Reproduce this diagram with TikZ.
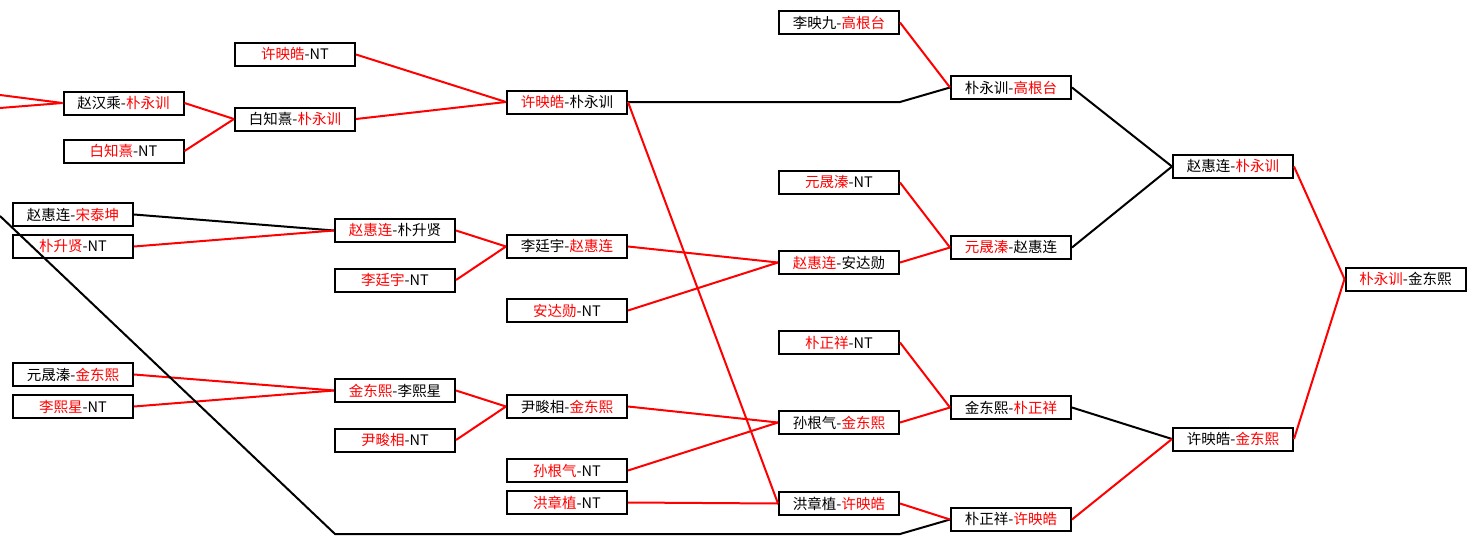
\documentclass[tikz,border=0pt]{standalone}
\usepackage{fontspec}
\usepackage{tikz}
\newfontfamily\cjk{Noto Sans CJK SC}
\newcommand{\win}[1]{\textcolor{red}{#1}}

\begin{document}
\begin{tikzpicture}[x=1pt, y=-1pt,
        team/.style={draw=black, line width=2pt, fill=white, minimum width=120pt,
            minimum height=23pt, inner sep=0pt, font=\cjk\fontsize{14.5}{16}\selectfont},
        won/.style={red, line width=2pt},
        lost/.style={black, line width=2pt}]
        \useasboundingbox (0,0) rectangle (1476,557);

        % Coordinates
        \coordinate (in1) at (0,95);
        \coordinate (in2) at (0,108);
        \coordinate (in3) at (0,216);
        \coordinate (kneeA) at (900,102);
        \coordinate (kneeB) at (335,534);
        \coordinate (kneeC) at (900,534);

        % Round 1
        \node[team] (a1) at (123.5,103) {赵汉乘-\win{朴永训}};
        \node[team] (a2) at (123.5,151) {\win{白知熹}-NT};
        \node[team] (a3) at (73,214.5) {赵惠连-\win{宋泰坤}};
        \node[team] (a4) at (73,246.5) {\win{朴升贤}-NT};
        \node[team] (a5) at (73,374.5) {元晟溱-\win{金东熙}};
        \node[team] (a6) at (73,406.5) {\win{李熙星}-NT};

        % Round 2
        \node[team] (b1) at (295,54.5) {\win{许映皓}-NT};
        \node[team] (b2) at (295,119) {白知熹-\win{朴永训}};
        \node[team] (b3) at (395,230.5) {\win{赵惠连}-朴升贤};
        \node[team] (b4) at (395,280) {\win{李廷宇}-NT};
        \node[team] (b5) at (395,390.5) {\win{金东熙}-李熙星};
        \node[team] (b6) at (395,440) {\win{尹畯相}-NT};

        % Round 3
        \node[team] (c1) at (567,102) {\win{许映皓}-朴永训};
        \node[team] (c2) at (567,246.5) {李廷宇-\win{赵惠连}};
        \node[team] (c3) at (567,310.5) {\win{安达勋}-NT};
        \node[team] (c4) at (567,406.5) {尹畯相-\win{金东熙}};
        \node[team] (c5) at (567,470.5) {\win{孙根气}-NT};
        \node[team] (c6) at (567,502.5) {\win{洪章植}-NT};

        % Round 4
        \node[team] (d1) at (839,22.5) {李映九-\win{高根台}};
        \node[team] (d2) at (839,182.5) {\win{元晟溱}-NT};
        \node[team] (d3) at (839,262.5) {\win{赵惠连}-安达勋};
        \node[team] (d4) at (839,342.5) {\win{朴正祥}-NT};
        \node[team] (d5) at (839,422.5) {孙根气-\win{金东熙}};
        \node[team] (d6) at (839,503.5) {洪章植-\win{许映皓}};

        % Round 5
        \node[team] (e1) at (1011,87.5) {朴永训-\win{高根台}};
        \node[team] (e2) at (1011,247.5) {\win{元晟溱}-赵惠连};
        \node[team] (e3) at (1011,407.5) {金东熙-\win{朴正祥}};
        \node[team] (e4) at (1011,519.5) {朴正祥-\win{许映皓}};

        % Semi-finals and final
        \node[team] (f1) at (1233,166.5) {赵惠连-\win{朴永训}};
        \node[team] (f2) at (1233,439) {许映皓-\win{金东熙}};
        \node[team] (g1) at (1405.5,279) {\win{朴永训}-金东熙};

        % Drawing
        \draw[won] (in1) -- (a1.west);
        \draw[won] (in2) -- (a1.west);
        \draw[won] (a1.east) -- (b2.west);
        \draw[won] (a2.east) -- (b2.west);
        \draw[lost] (a3.east) -- (b3.west);
        \draw[won] (a4.east) -- (b3.west);
        \draw[won] (a5.east) -- (b5.west);
        \draw[won] (a6.east) -- (b5.west);
        \draw[won] (b1.east) -- (c1.west);
        \draw[won] (b2.east) -- (c1.west);
        \draw[won] (b3.east) -- (c2.west);
        \draw[won] (b4.east) -- (c2.west);
        \draw[won] (b5.east) -- (c4.west);
        \draw[won] (b6.east) -- (c4.west);
        \draw[lost] (c1.east) -- (kneeA) -- (e1.west);
        \draw[won] (c1.east) -- (d6.west);
        \draw[won] (c2.east) -- (d3.west);
        \draw[won] (c3.east) -- (d3.west);
        \draw[won] (c4.east) -- (d5.west);
        \draw[won] (c5.east) -- (d5.west);
        \draw[won] (c6.east) -- (d6.west);
        \draw[lost] (in3) -- (kneeB) -- (kneeC) -- (e4.west);
        \draw[won] (d1.east) -- (e1.west);
        \draw[won] (d2.east) -- (e2.west);
        \draw[won] (d3.east) -- (e2.west);
        \draw[won] (d4.east) -- (e3.west);
        \draw[won] (d5.east) -- (e3.west);
        \draw[won] (d6.east) -- (e4.west);
        \draw[lost] (e1.east) -- (f1.west);
        \draw[lost] (e2.east) -- (f1.west);
        \draw[lost] (e3.east) -- (f2.west);
        \draw[won] (e4.east) -- (f2.west);
        \draw[won] (f1.east) -- (g1.west);
        \draw[won] (f2.east) -- (g1.west);
    \end{tikzpicture}
\end{document}
